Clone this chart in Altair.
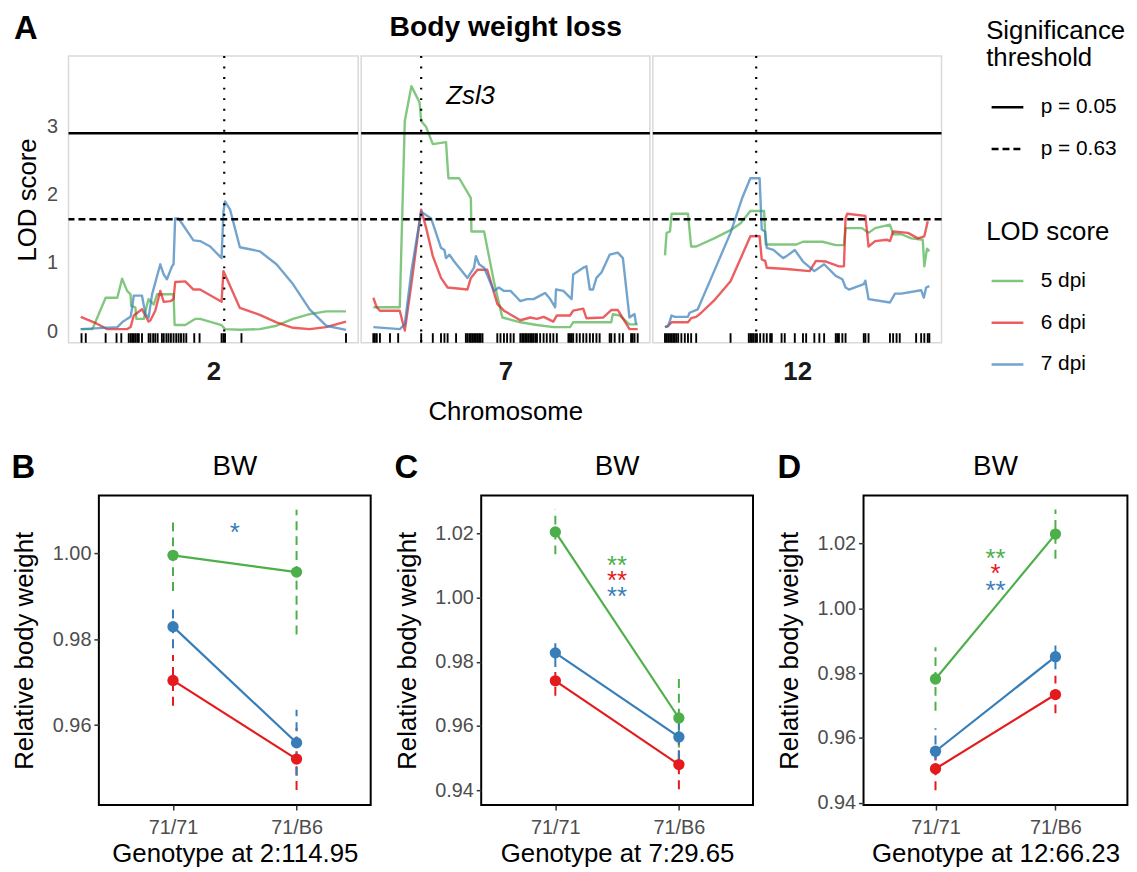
import altair as alt
import pandas as pd

FONT = "Liberation Sans"

# ---------------- Panel A : LOD profiles ----------------
# positions are on a 0-100 relative scale along each chromosome's marker span
CHROMS = ["2", "7", "12"]
DPI = ["5 dpi", "6 dpi", "7 dpi"]
COLORS = ["#4DAF4A", "#E41A1C", "#377EB8"]
THRESH_LABELS = ["p = 0.05", "p = 0.63"]
THRESH_VALUES = [2.90, 1.64]
PEAK_POS = {"2": 54.1, "7": 18.1, "12": 34.5}
GENE_LABEL = "Zsl3"
GENE_POS = 36.8
GENE_LOD = 3.45

chr2_5_pos = [0, 4.4, 9.4, 13.8, 15.6, 17.5, 18.8, 19, 20.6, 21, 23.8, 25, 25.6, 26.3, 27.5, 28.8, 35, 35.4, 39.4, 43.1, 45, 53.1, 54.4, 60, 67.5, 73.8, 80, 86.3, 92.5, 100]
chr2_5_lod = [0.03, 0.03, 0.49, 0.49, 0.77, 0.59, 0.54, 0.37, 0.35, 0.18, 0.18, 0.39, 0.47, 0.44, 0.39, 0.54, 0.54, 0.09, 0.09, 0.18, 0.18, 0.09, 0.03, 0.02, 0.03, 0.08, 0.18, 0.25, 0.29, 0.29]
chr2_6_pos = [0, 5, 10, 17.5, 18.8, 20, 23.1, 24.4, 25.6, 26.3, 28.1, 30, 31.3, 33.8, 35, 35.6, 39.4, 42.5, 45, 53.1, 53.8, 60, 67.5, 73.8, 80, 86.3, 92.5, 100]
chr2_6_lod = [0.21, 0.13, 0.03, 0.03, 0.06, 0.23, 0.32, 0.23, 0.14, 0.16, 0.30, 0.59, 0.43, 0.44, 0.47, 0.72, 0.73, 0.61, 0.61, 0.43, 0.88, 0.34, 0.24, 0.13, 0.05, 0.03, 0.06, 0.14]
chr2_7_pos = [0, 13.8, 15.6, 17.5, 18.8, 19.4, 20, 23.1, 24.4, 25.6, 26.9, 30, 31.3, 32.5, 34.4, 35, 35.6, 36.9, 42.5, 45, 48.8, 53.1, 53.8, 54.4, 56.3, 60, 67.5, 73.8, 80, 86.3, 92.5, 100]
chr2_7_lod = [0.03, 0.06, 0.13, 0.18, 0.21, 0.35, 0.52, 0.52, 0.25, 0.20, 0.54, 0.98, 0.83, 0.76, 0.95, 0.98, 1.65, 1.65, 1.33, 1.32, 1.24, 1.07, 1.75, 1.90, 1.78, 1.23, 1.17, 0.98, 0.69, 0.32, 0.08, 0.02]

chr7_5_pos = [0, 10, 11.9, 14.4, 17.5, 18.1, 20, 22.5, 27.5, 28.4, 32.5, 36.9, 37.1, 41.9, 45.6, 48.8, 55.6, 61.9, 68.1, 74.4, 75.6, 80.6, 90, 90.6, 93.1, 96.9, 100]
chr7_5_lod = [0.35, 0.35, 3.08, 3.59, 3.35, 3.08, 2.99, 2.74, 2.77, 2.24, 2.24, 1.95, 1.46, 1.46, 0.73, 0.20, 0.13, 0.09, 0.06, 0.06, 0.13, 0.13, 0.13, 0.25, 0.23, 0.10, 0.10]
chr7_6_pos = [0, 1.3, 2.5, 10, 11.9, 14.4, 18.1, 20, 22.5, 25.6, 28.1, 35.6, 36.9, 39.4, 43.1, 46.9, 49.4, 55.6, 59.4, 61.9, 64.4, 68.1, 69.4, 74.4, 75.6, 79.4, 80.6, 86.9, 90, 92.5, 95, 96.9, 100]
chr7_6_lod = [0.49, 0.35, 0.30, 0.30, 0.01, 0.69, 1.78, 1.51, 1.10, 0.78, 0.64, 0.61, 0.78, 0.90, 0.90, 0.40, 0.30, 0.16, 0.20, 0.18, 0.21, 0.14, 0.23, 0.23, 0.30, 0.33, 0.19, 0.20, 0.31, 0.31, 0.15, 0.03, 0.03]
chr7_7_pos = [0, 10, 11.9, 14.4, 18.1, 21.9, 25.6, 26.9, 27.5, 28.8, 30.6, 35.6, 38.1, 38.8, 40, 41.9, 45.6, 47.5, 49.4, 51.9, 54.4, 55.6, 58.1, 60.6, 63.1, 65, 66.9, 68.8, 69.1, 71.9, 75, 75.6, 79.4, 80.6, 81.9, 83.1, 84.4, 86.3, 89.4, 92.5, 94.4, 96.9, 98.8, 99.4]
chr7_7_lod = [0.06, 0.03, 0.10, 0.88, 1.75, 1.65, 1.22, 1.19, 1.07, 1.12, 1.02, 0.78, 0.93, 1.10, 0.98, 0.93, 0.59, 0.64, 0.59, 0.59, 0.49, 0.44, 0.47, 0.47, 0.52, 0.56, 0.47, 0.35, 0.61, 0.59, 0.47, 0.83, 0.93, 0.95, 0.61, 0.61, 0.78, 0.86, 1.12, 1.15, 1.07, 0.20, 0.25, 0.10]

chr12_5_pos = [0, 0.6, 1.9, 2.5, 8.7, 9.9, 11.8, 18.6, 24.8, 28.6, 32.3, 37.5, 38.1, 49.7, 52.2, 59.6, 64.6, 67.7, 68.3, 74.5, 77, 79.5, 85.1, 86.3, 89.4, 93.2, 97.5, 98.1, 99.1, 100]
chr12_5_lod = [1.11, 1.44, 1.46, 1.72, 1.72, 1.24, 1.24, 1.36, 1.48, 1.58, 1.76, 1.76, 1.27, 1.27, 1.31, 1.31, 1.26, 1.26, 1.51, 1.51, 1.44, 1.51, 1.56, 1.42, 1.42, 1.36, 1.34, 0.95, 1.21, 1.17]
chr12_6_pos = [0, 1.2, 2.5, 8.7, 9.9, 11.8, 13.7, 18.6, 24.8, 29.8, 32.3, 35.8, 36.6, 37.9, 38.5, 46, 54.7, 57.1, 60.9, 65.8, 67.7, 68.3, 68.9, 75.8, 77, 79.5, 83.9, 85.1, 86.3, 91.9, 95.7, 98.1, 99.4]
chr12_6_lod = [0.06, 0.08, 0.13, 0.13, 0.19, 0.21, 0.27, 0.45, 0.73, 1.17, 1.39, 1.39, 1.05, 1.03, 0.93, 0.91, 0.88, 1.03, 1.02, 0.95, 0.95, 1.65, 1.72, 1.69, 1.24, 1.32, 1.34, 1.32, 1.46, 1.44, 1.36, 1.39, 1.61]
chr12_7_pos = [0, 1.2, 2.5, 3.7, 8.7, 9.3, 12.4, 18.6, 24.8, 29.2, 32.3, 35.8, 36.6, 37.9, 38.5, 41, 44.7, 46, 49.1, 52.2, 56.5, 60.2, 64.6, 67.1, 68.3, 69.6, 75.2, 75.8, 77, 85.1, 87, 89.4, 96.9, 97.9, 98.8, 100]
chr12_7_lod = [0.06, 0.07, 0.23, 0.21, 0.21, 0.27, 0.32, 0.88, 1.44, 1.95, 2.24, 2.24, 1.49, 1.46, 1.22, 1.19, 1.07, 1.10, 1.19, 1.02, 0.88, 0.98, 0.81, 0.76, 0.64, 0.61, 0.69, 0.74, 0.47, 0.42, 0.55, 0.55, 0.60, 0.49, 0.64, 0.66]

rug_chr2 = [0.3, 1.9, 9.4, 13.5, 15.3, 18.1, 18.8, 19.4, 20, 20.6, 21.3, 21.9, 23.1, 25.6, 26.3, 27.3, 28.1, 29, 30.6, 31.3, 32.3, 33.1, 34, 35, 36, 36.9, 37.8, 38.8, 39.8, 42.8, 44.8, 53.1, 53.8, 54.4, 60.6, 100]
rug_chr7 = [0, 0.6, 1.3, 2.5, 6.3, 9.4, 18.1, 22.5, 25.6, 26.9, 28.1, 31.3, 35, 35.6, 36.3, 36.9, 37.5, 38.1, 38.8, 39.4, 40, 40.6, 41.3, 46.9, 48.1, 49.4, 50.6, 51.9, 53.1, 55.6, 56.3, 56.9, 57.5, 58.1, 58.8, 59.4, 60, 60.6, 61.3, 61.9, 63.1, 64.4, 65.6, 66.9, 68.1, 69.4, 73.8, 74.4, 75, 75.6, 76.9, 78.1, 79.4, 80.6, 81.9, 83.1, 84.4, 85.6, 89.4, 90, 91.3, 93.1, 94.4, 97.5, 98.1, 98.8, 100]
rug_chr12 = [0, 0.6, 1.2, 1.9, 2.5, 3.1, 3.7, 4.3, 5, 6.2, 7.5, 8.7, 9.9, 11.8, 24.8, 31.7, 32.3, 32.9, 33.5, 34.2, 34.8, 36, 37.3, 38.5, 39.8, 40.4, 44.1, 45.3, 49.1, 52.2, 53.4, 56.5, 58.4, 60.2, 64.6, 65.2, 65.8, 67.1, 68.3, 75.2, 75.8, 77, 85.1, 86.3, 87.6, 88.8, 95, 96.9, 98.1, 99.4, 100]

LOD_SERIES = {
    "2": [("5 dpi", chr2_5_pos, chr2_5_lod), ("6 dpi", chr2_6_pos, chr2_6_lod), ("7 dpi", chr2_7_pos, chr2_7_lod)],
    "7": [("5 dpi", chr7_5_pos, chr7_5_lod), ("6 dpi", chr7_6_pos, chr7_6_lod), ("7 dpi", chr7_7_pos, chr7_7_lod)],
    "12": [("5 dpi", chr12_5_pos, chr12_5_lod), ("6 dpi", chr12_6_pos, chr12_6_lod), ("7 dpi", chr12_7_pos, chr12_7_lod)],
}
RUGS = {"2": rug_chr2, "7": rug_chr7, "12": rug_chr12}

X_SCALE = alt.Scale(domain=[-4.6, 104.6], nice=False, zero=False)
Y_SCALE = alt.Scale(domain=[-0.17, 4.03], nice=False, zero=False)
Y_AXIS = alt.Axis(values=[0, 1, 2, 3], grid=False, ticks=False, domain=False,
                  labelFontSize=20, labelColor="#4D4D4D", labelPadding=11,
                  titleFontSize=26, titleFontWeight="normal", titleColor="black", titlePadding=6)
LEG_COMMON = dict(orient="none", titleFontSize=26, titleFontWeight="normal", titleColor="black",
                  titleLineHeight=27.5, labelFontSize=21, labelColor="black", symbolType="stroke",
                  symbolSize=1024, symbolStrokeWidth=2.5, symbolOffset=4, rowPadding=14,
                  titlePadding=18.6, labelOffset=16)


def chr_chart(chrom, width, show_y, texts):
    lod_rows = []
    for dpi, pos, lod in LOD_SERIES[chrom]:
        if len(pos) != len(lod):
            raise ValueError(f"length mismatch chr{chrom} {dpi}: {len(pos)} vs {len(lod)}")
        lod_rows += [{"dpi": dpi, "pos": p, "lod": v} for p, v in zip(pos, lod)]
    lod_df = pd.DataFrame(lod_rows)
    rug_df = pd.DataFrame({"pos": RUGS[chrom]})
    peak_df = pd.DataFrame({"pos": [PEAK_POS[chrom]]})
    thr_df = pd.DataFrame({"thr": THRESH_LABELS, "lod": THRESH_VALUES})

    x_axis = alt.Axis(title=chrom, labels=False, ticks=False, domain=False, grid=False,
                      titleFontSize=26, titleFontWeight="bold", titleColor="#1A1A1A", titlePadding=16.5)
    xs = alt.X("pos:Q", scale=X_SCALE, axis=x_axis, title=chrom)
    yax = Y_AXIS if show_y else None

    def ys(field):
        if yax is None:
            return alt.Y(field, type="quantitative", scale=Y_SCALE, axis=None)
        return alt.Y(field, type="quantitative", scale=Y_SCALE, axis=yax, title="LOD score")

    if yax is None:
        rug_y = alt.YDatum(-0.17, scale=Y_SCALE, axis=None)
    else:
        rug_y = alt.YDatum(-0.17, scale=Y_SCALE, axis=yax, title="LOD score")

    lines = alt.Chart(lod_df).mark_line(strokeWidth=2.4, opacity=0.7, strokeJoin="round").encode(
        x=xs, y=ys("lod"),
        color=alt.Color("dpi:N", scale=alt.Scale(domain=DPI, range=COLORS),
                        legend=alt.Legend(title="LOD score", legendX=925, legendY=164.7, **LEG_COMMON)),
    )
    thr = alt.Chart(thr_df).mark_rule(color="black", strokeWidth=2.4).encode(
        y=ys("lod"),
        strokeDash=alt.StrokeDash("thr:N", scale=alt.Scale(domain=THRESH_LABELS, range=[[1, 0], [7, 4]]),
                                  legend=alt.Legend(title=["Significance", "threshold"], legendX=925,
                                                    legendY=-38, symbolStrokeColor="black", **LEG_COMMON)),
    )
    peak = alt.Chart(peak_df).mark_rule(color="black", strokeWidth=2.2, strokeDash=[2, 8.6]).encode(x=xs)
    rug = alt.Chart(rug_df).mark_rule(color="black", strokeWidth=1.9).encode(
        x=xs, y=rug_y, y2=alt.Y2Datum(-0.03))
    layers = [lines, thr, peak, rug]
    for t in texts:
        layers.append(t)
    return alt.layer(*layers).properties(width=width, height=289)


# annotation texts (panel letters / titles)
letter_A = alt.Chart(pd.DataFrame({"t": ["A"]})).mark_text(
    fontSize=33, fontWeight="bold", color="black", align="left", baseline="alphabetic"
).encode(x=alt.value(-55), y=alt.value(-17.3), text="t:N")
title_A = alt.Chart(pd.DataFrame({"t": ["Body weight loss"]})).mark_text(
    fontSize=28.5, fontWeight="bold", color="black", align="center", baseline="alphabetic"
).encode(x=alt.value(145.8), y=alt.value(-20), text="t:N")
xlab_A = alt.Chart(pd.DataFrame({"t": ["Chromosome"]})).mark_text(
    fontSize=26, color="black", align="center", baseline="alphabetic"
).encode(x=alt.value(145.8), y=alt.value(366.7), text="t:N")
gene_A = alt.Chart(pd.DataFrame({"t": [GENE_LABEL], "pos": [GENE_POS], "lod": [GENE_LOD]})).mark_text(
    fontSize=26, fontStyle="italic", color="black", baseline="middle"
).encode(x=alt.X("pos:Q", scale=X_SCALE, axis=alt.Axis(title="7", labels=False, ticks=False, domain=False,
                                                        grid=False, titleFontSize=26, titleFontWeight="bold",
                                                        titleColor="#1A1A1A", titlePadding=16.5), title="7"),
         y=alt.Y("lod:Q", scale=Y_SCALE, axis=None), text="t:N")

c2 = chr_chart("2", 292, True, [letter_A])
c7 = chr_chart("7", 291, False, [gene_A, title_A, xlab_A])
c12 = chr_chart("12", 291, False, [])
top = alt.hconcat(c2, c7, c12, spacing=3, bounds="flush").resolve_scale(color="shared", strokeDash="shared")

# ---------------- Panels B-D : relative body weight ----------------
GENO_CODES = [1, 2]          # 71/71, 71/B6
GENO_LABELS = ["71/71", "71/B6"]

B_MEAN_5 = [0.9995, 0.9956]; B_ERR_5 = [0.0083, 0.0145]
B_MEAN_6 = [0.9704, 0.9521]; B_ERR_6 = [0.0059, 0.0072]
B_MEAN_7 = [0.9829, 0.9559]; B_ERR_7 = [0.0050, 0.0077]
B_STARS = [("*", "7 dpi", 1.0059)]

C_MEAN_5 = [1.0205, 0.9625]; C_ERR_5 = [0.0070, 0.0138]
C_MEAN_6 = [0.9741, 0.9480]; C_ERR_6 = [0.0047, 0.0077]
C_MEAN_7 = [0.9828, 0.9566]; C_ERR_7 = [0.0044, 0.0070]
C_STARS = [("**", "5 dpi", 1.0114), ("**", "6 dpi", 1.0067), ("**", "7 dpi", 1.0016)]

D_MEAN_5 = [0.9782, 1.0229]; D_ERR_5 = [0.0098, 0.0076]
D_MEAN_6 = [0.9505, 0.9734]; D_ERR_6 = [0.0066, 0.0058]
D_MEAN_7 = [0.9559, 0.9851]; D_ERR_7 = [0.0071, 0.0039]
D_STARS = [("**", "5 dpi", 1.0168), ("*", "6 dpi", 1.0120), ("**", "7 dpi", 1.0069)]

LABEL_EXPR = f"datum.value == {GENO_CODES[0]} ? '{GENO_LABELS[0]}' : '{GENO_LABELS[1]}'"


def bw_panel(letter, xtitle, means, errs, stars, ydomain, yticks, width, letter_x):
    rows = []
    for dpi, m, e in zip(DPI, means, errs):
        for g, mv, ev in zip(GENO_CODES, m, e):
            rows.append({"dpi": dpi, "gx": g, "mean": mv, "err": ev})
    df = pd.DataFrame(rows)
    star_df = pd.DataFrame([{"txt": t, "dpi": d, "gx": 1.5, "yv": y} for t, d, y in stars])

    xs = alt.X("gx:Q", scale=alt.Scale(domain=[0.4, 2.6], nice=False, zero=False),
               axis=alt.Axis(values=GENO_CODES, labelExpr=LABEL_EXPR, grid=False, domain=False,
                             tickSize=5, tickColor="#333333", tickWidth=1.5,
                             labelFontSize=20, labelColor="#4D4D4D", labelPadding=8,
                             titleFontSize=26, titleFontWeight="normal", titleColor="black", titlePadding=3),
               title=xtitle)
    ysc = alt.Scale(domain=ydomain, nice=False, zero=False)
    yax = alt.Axis(values=yticks, format=".2f", grid=False, domain=False,
                   tickSize=5, tickColor="#333333", tickWidth=1.5,
                   labelFontSize=20, labelColor="#4D4D4D", labelPadding=3,
                   titleFontSize=26, titleFontWeight="normal", titleColor="black", titlePadding=14.6)
    col = alt.Color("dpi:N", scale=alt.Scale(domain=DPI, range=COLORS), legend=None)

    def ys(field):
        return alt.Y(field, type="quantitative", scale=ysc, axis=yax, title="Relative body weight")

    b = alt.Chart(df)
    err = b.transform_calculate(lo="datum.mean - datum.err", hi="datum.mean + datum.err").mark_rule(
        strokeWidth=2, strokeDash=[9, 6]
    ).encode(x=xs, y=ys("lo"), y2="hi:Q", color=col)
    line = b.mark_line(strokeWidth=2.2).encode(x=xs, y=ys("mean"), color=col)
    pts = b.mark_circle(size=130, opacity=1).encode(x=xs, y=ys("mean"), color=col)
    st = alt.Chart(star_df).mark_text(fontSize=26, baseline="middle", dy=5).encode(
        x=xs, y=ys("yv"), text="txt:N", color=col)
    lt = alt.Chart(pd.DataFrame({"t": [letter]})).mark_text(
        fontSize=33, fontWeight="bold", color="black", align="left", baseline="alphabetic"
    ).encode(x=alt.value(letter_x), y=alt.value(-17.7), text="t:N")
    tt = alt.Chart(pd.DataFrame({"t": ["BW"]})).mark_text(
        fontSize=28, color="black", align="center", baseline="alphabetic"
    ).encode(x=alt.value(width / 2), y=alt.value(-20.3), text="t:N")
    return alt.layer(err, line, pts, st, lt, tt).properties(
        width=width, height=312,
        view=alt.ViewBackground(stroke="black", strokeWidth=2),
    )


pB = bw_panel("B", "Genotype at 2:114.95", [B_MEAN_5, B_MEAN_6, B_MEAN_7], [B_ERR_5, B_ERR_6, B_ERR_7],
              B_STARS, [0.9414, 1.0134], [0.96, 0.98, 1.00], 274, -88)
pC = bw_panel("C", "Genotype at 7:29.65", [C_MEAN_5, C_MEAN_6, C_MEAN_7], [C_ERR_5, C_ERR_6, C_ERR_7],
              C_STARS, [0.93537, 1.03183], [0.94, 0.96, 0.98, 1.00, 1.02], 274, -87.5)
pD = bw_panel("D", "Genotype at 12:66.23", [D_MEAN_5, D_MEAN_6, D_MEAN_7], [D_ERR_5, D_ERR_6, D_ERR_7],
              D_STARS, [0.9393, 1.0348], [0.94, 0.96, 0.98, 1.00, 1.02], 266, -86.7)

spacer = alt.Chart(pd.DataFrame({"a": [0]})).mark_point(opacity=0).encode(
    x=alt.value(0), y=alt.value(0)
).properties(width=1, height=1, view=alt.ViewBackground(strokeOpacity=0))

bottom_panels = alt.hconcat(pB, pC, pD, spacing=111.4, bounds="flush")
bottom = alt.hconcat(spacer, bottom_panels, spacing=29.6, bounds="flush")

chart = alt.vconcat(top, bottom, spacing=25).resolve_scale(color="independent").properties(
    padding={"left": 2, "top": 0, "right": 0, "bottom": 0}
).configure(font=FONT).configure_view(stroke="#D9D9D9", strokeWidth=1.5)

chart.save("out.html", embed_options={"renderer": "svg", "actions": False})
